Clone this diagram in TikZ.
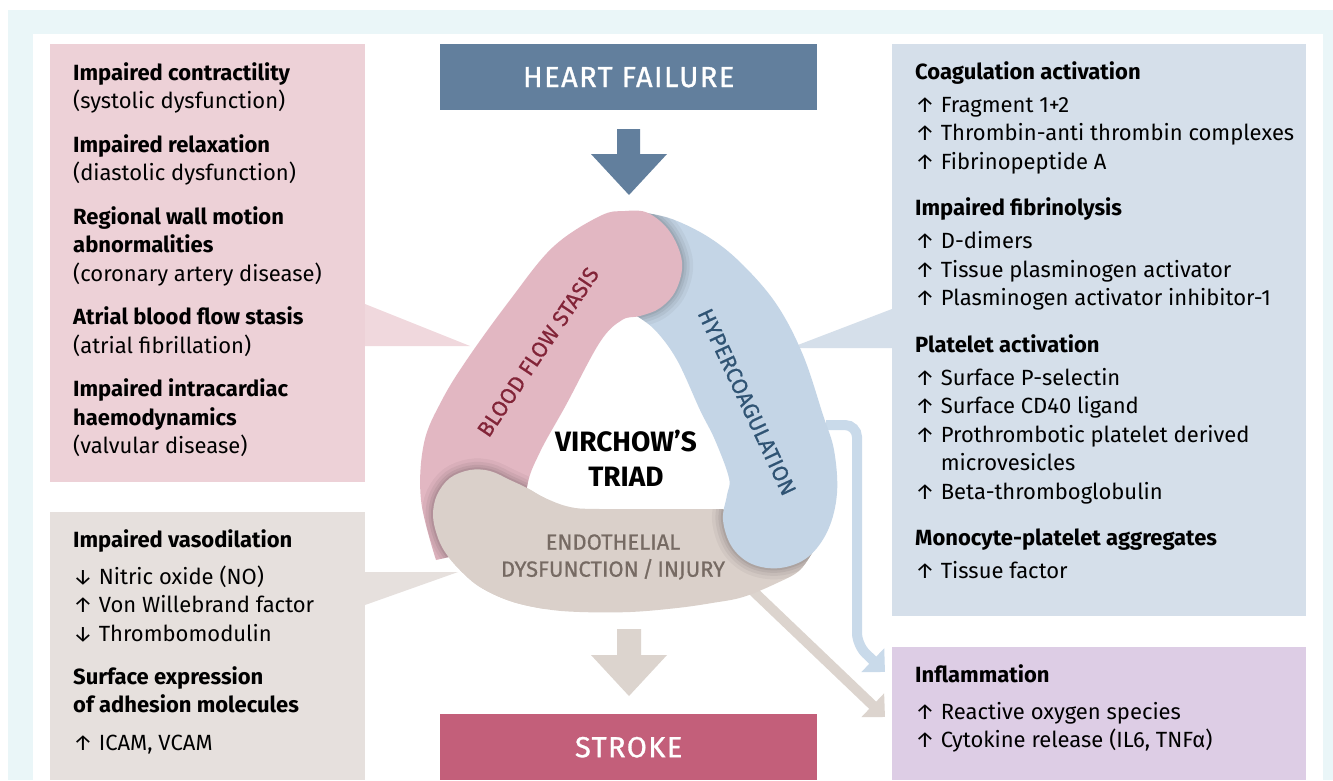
\documentclass[tikz,border=0pt]{standalone}
\usepackage{fontspec}
\setmainfont{Fira Sans}
\usetikzlibrary{arrows.meta}
\definecolor{frameCyan}{RGB}{234,246,248}
\definecolor{stasisBox}{RGB}{237,209,215}
\definecolor{stasisWedge}{RGB}{240,216,221}
\definecolor{stasisBand}{RGB}{226,183,194}
\definecolor{stasisInk}{RGB}{130,36,56}
\definecolor{coagBox}{RGB}{213,223,234}
\definecolor{coagBand}{RGB}{196,213,230}
\definecolor{coagInk}{RGB}{48,84,116}
\definecolor{endoBox}{RGB}{230,224,221}
\definecolor{endoBand}{RGB}{218,208,202}
\definecolor{endoInk}{RGB}{118,106,99}
\definecolor{inflamBox}{RGB}{221,205,229}
\definecolor{hfBlue}{RGB}{98,127,157}
\definecolor{strokeRose}{RGB}{195,95,122}
\definecolor{linkBlue}{RGB}{201,218,234}
\definecolor{linkTan}{RGB}{220,212,206}
\newcommand{\Hd}[1]{{\bfseries #1}}
\newcommand{\UpMark}{↑\ }
\newcommand{\DownMark}{↓\ }
% outlines of the three bands of the triad
\newcommand{\StasisPath}{plot[smooth,tension=.6] coordinates {(436,560) (421,500) (424,443) (442,400) (468,358) (510,300) (553,247) (600,216) (625,211) (648,213) (670,232) (682,262) (676,290) (660,308) (640,316) (622,320) (600,342) (566,405) (540,452) (527,487) (524,540)} -- cycle}
\newcommand{\CoagPath}{(615,300) -- plot[smooth,tension=.6] coordinates {(640,212) (672,219) (710,238) (743,265) (777,305) (803,355) (823,415) (834,450) (837,493) (828,530) (808,557) (780,568) (752,564) (732,547) (723,520) (727,495) (729,478) (715,440) (700,410) (677,360) (655,330) (635,315)} -- cycle}
\newcommand{\EndoPath}{plot[smooth,tension=.6] coordinates {(790,505) (740,509) (700,509) (600,509) (570,507) (545,498) (527,488) (510,480) (490,471) (470,470) (450,478) (437,495) (433,515) (437,535) (445,552) (460,570) (480,587) (510,601) (545,609) (580,612) (630,612) (677,608) (712,603) (743,597) (777,583) (800,570) (815,548)} -- cycle}
\newcommand{\CapShadow}[1]{\foreach \w/\o in {22/.04,15/.05,9/.06,4/.07}{\draw[line width=\w pt,black,opacity=\o] #1;}}

\begin{document}
\begin{tikzpicture}[x=1pt,y=-1pt,
  box/.style={rectangle,inner sep=0pt,anchor=north west},
  listtext/.style={anchor=north west,align=left,inner sep=0pt,font=\fontsize{22}{28.5}\selectfont},
  banner/.style={box,text=white,font=\fontsize{29}{30}\selectfont\addfontfeature{LetterSpace=5,FakeBold=1}},
  bandlabel/.style={inner sep=0pt,align=center,font=\fontsize{22}{27}\selectfont\addfontfeature{FakeBold=0.6}},
  link/.style={line width=10pt,-{Triangle[width=32pt,length=17pt]}}]
\useasboundingbox (0,0) rectangle (1333,780);
\fill[white] (0,0) rectangle (1333,780);
\fill[frameCyan] (8,10) rectangle (1333,780);
\fill[white] (33,34) rectangle (1323,780);

% side boxes
\node[box,fill=stasisBox,minimum width=315pt,minimum height=438pt] (stasis) at (50,44) {};
\node[box,fill=endoBox,minimum width=315pt,minimum height=268pt] (endo) at (50,512) {};
\node[box,fill=coagBox,minimum width=414pt,minimum height=572pt] (coag) at (892,44) {};
\node[box,fill=inflamBox,minimum width=414pt,minimum height=133pt] (inflam) at (892,647) {};
\node[banner,fill=hfBlue,minimum width=377pt,minimum height=66pt] (hf) at (440,44) {HEART FAILURE};
\node[banner,fill=strokeRose,minimum width=377pt,minimum height=66pt] (stroke) at (440,714) {STROKE};

\node[listtext] (stasistext) at ([xshift=23pt,yshift=-18pt]stasis.north west) {%
\Hd{Impaired contractility}\\
(systolic dysfunction)\\[15pt]
\Hd{Impaired relaxation}\\
(diastolic dysfunction)\\[15pt]
\Hd{Regional wall motion}\\
\Hd{abnormalities}\\
(coronary artery disease)\\[15pt]
\Hd{Atrial blood flow stasis}\\
(atrial fibrillation)\\[15pt]
\Hd{Impaired intracardiac}\\
\Hd{haemodynamics}\\
(valvular disease)};
\node[listtext] (coagtext) at ([xshift=23pt,yshift=-17pt]coag.north west) {%
\Hd{Coagulation activation}\\[4.5pt]
\UpMark Fragment 1+2\\
\UpMark Thrombin-anti thrombin complexes\\
\UpMark Fibrinopeptide A\\[18pt]
\Hd{Impaired fibrinolysis}\\[4.5pt]
\UpMark D-dimers\\
\UpMark Tissue plasminogen activator\\
\UpMark Plasminogen activator inhibitor-1\\[18pt]
\Hd{Platelet activation}\\[4.5pt]
\UpMark Surface P-selectin\\
\UpMark Surface CD40 ligand\\
\UpMark Prothrombotic platelet derived\\
\phantom{\UpMark}microvesicles\\
\UpMark Beta-thromboglobulin\\[18pt]
\Hd{Monocyte-platelet aggregates}\\[4.5pt]
\UpMark Tissue factor};
\node[listtext] (endotext) at ([xshift=23pt,yshift=-17pt]endo.north west) {%
\Hd{Impaired vasodilation}\\[8.5pt]
\DownMark Nitric oxide (NO)\\
\UpMark Von Willebrand factor\\
\DownMark Thrombomodulin\\[14.5pt]
\Hd{Surface expression}\\
\Hd{of adhesion molecules}\\[9.5pt]
\UpMark ICAM, VCAM};
\node[listtext] (inflamtext) at ([xshift=23pt,yshift=-17pt]inflam.north west) {%
\Hd{Inflammation}\\[8.5pt]
\UpMark Reactive oxygen species\\
\UpMark Cytokine release (IL6, TNFα)};

% callout wedges
\fill[stasisWedge] (365,304) -- (470,346) -- (365,346) -- cycle;
\fill[coagBox] (892,309) -- (790,348) -- (892,348) -- cycle;
\fill[endoBox] (365,572) -- (458,572) -- (365,605) -- cycle;

% block arrows
\fill[hfBlue] (617,129) -- (640,129) -- (640,154) -- (667,154) -- (629,195) -- (591,154) -- (617,154) -- cycle;
\fill[linkTan] (617,629) -- (641,629) -- (641,655) -- (667,655) -- (629,696) -- (591,655) -- (617,655) -- cycle;

% links into the inflammation box
\coordinate (coagOut) at (826,425);
\coordinate (endoOut) at (752,590);
\draw[link,linkBlue,rounded corners=12pt] (coagOut) -- (857,425) -- (857,645) -- ([xshift=-7pt,yshift=-25pt]inflam.north west);
\draw[link,linkTan] (endoOut) -- ([xshift=-7pt,yshift=-70pt]inflam.north west);

% the triad
\fill[endoBand] \EndoPath;
\begin{scope}
  \clip \EndoPath;
  \CapShadow{\CoagPath}
\end{scope}
\fill[coagBand] \CoagPath;
\begin{scope}
  \clip \CoagPath;
  \CapShadow{\StasisPath}
\end{scope}
\fill[stasisBand] \StasisPath;
\begin{scope}
  \clip (400,440) rectangle (545,630);
  \begin{scope}
    \clip \StasisPath;
    \CapShadow{\EndoPath}
  \end{scope}
  \fill[endoBand] \EndoPath;
\end{scope}

\node[bandlabel,text=stasisInk,rotate=56] (stasislabel) at (538,352) {BLOOD FLOW STASIS};
\node[bandlabel,text=coagInk,rotate=-65] (coaglabel) at (747,402) {HYPERCOAGULATION};
\node[bandlabel,text=endoInk] (endolabel) at (613,557) {ENDOTHELIAL\\DYSFUNCTION\,/\,INJURY};
\node[inner sep=0pt,align=center,font=\fontsize{28}{35}\selectfont\bfseries] (triad) at (626,458) {VIRCHOW’S\\TRIAD};
\end{tikzpicture}
\end{document}
